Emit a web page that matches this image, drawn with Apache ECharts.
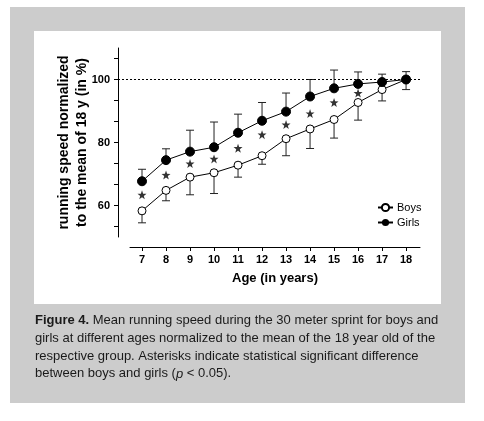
<!DOCTYPE html>
<html>
<head>
<meta charset="utf-8">
<script src="https://cdn.jsdelivr.net/npm/echarts@6/dist/echarts.min.js"></script>
<style>
  html, body { margin: 0; padding: 0; background: #ffffff; }
  #bg { position: absolute; left: 10px; top: 7px; width: 455px; height: 396px; background: #cccccc; }
  #panel { position: absolute; left: 34px; top: 31px; width: 407px; height: 273px; background: #ffffff; }
  #chart { position: absolute; left: 0; top: 0; width: 484px; height: 421px; }
</style>
</head>
<body>
<div id="bg"></div>
<div id="panel"></div>
<div id="chart"></div>
<script>
// ---- data ----
const ages = [7, 8, 9, 10, 11, 12, 13, 14, 15, 16, 17, 18];
const girls = [67.7, 74.4, 77.1, 78.5, 83.1, 86.9, 89.8, 94.6, 97.2, 98.6, 99.2, 100];
const girlsUpper = [71.5, 78.0, 83.9, 86.5, 89.0, 92.7, 95.7, 100.0, 103.0, 102.4, 101.7, 102.5];
const boys = [58.3, 64.8, 69.0, 70.4, 72.8, 75.8, 81.2, 84.3, 87.3, 92.7, 96.8, 100];
const boysLower = [54.5, 61.5, 63.4, 63.8, 69.0, 73.1, 75.8, 78.1, 81.4, 87.1, 93.2, 96.8];
const starAges = [7, 8, 9, 10, 11, 12, 13, 14, 15, 16];
const starValues = [63.4, 69.7, 73.3, 74.8, 78.2, 82.5, 85.7, 89.2, 92.7, 95.7];
const yTickValues = [53.333, 60, 66.667, 73.333, 80, 86.667, 93.333, 100, 106.667];
const yLabelValues = [60, 80, 100];
const xTickValues = [7, 8, 9, 10, 11, 12, 13, 14, 15, 16, 17, 18];
const refLine = 100;
const captionLines = [
  [['b', 'Figure 4.'], ['n', ' Mean running speed during the 30 meter sprint for boys and']],
  [['n', 'girls at different ages normalized to the mean of the 18 year old of the']],
  [['n', 'respective group. Asterisks indicate statistical significant difference']],
  [['n', 'between boys and girls ('], ['i', 'p'], ['n', ' < 0.05).']]
];

const FONT = '"Liberation Sans", Arial, sans-serif';
const chart = echarts.init(document.getElementById('chart'), null, { renderer: 'canvas' });

function errSeries(name, vals, bounds, color) {
  return {
    type: 'custom',
    name: name + ' err',
    xAxisIndex: 0, yAxisIndex: 0,
    z: 1,
    silent: true,
    data: ages.map((a, i) => [a, vals[i], bounds[i]]),
    renderItem: function (params, api) {
      const p0 = api.coord([api.value(0), api.value(1)]);
      const p1 = api.coord([api.value(0), api.value(2)]);
      const hw = 4;
      return {
        type: 'group',
        children: [
          { type: 'line', shape: { x1: p0[0], y1: p0[1], x2: p1[0], y2: p1[1] }, style: { stroke: color, lineWidth: 1 } },
          { type: 'line', shape: { x1: p1[0] - hw, y1: p1[1], x2: p1[0] + hw, y2: p1[1] }, style: { stroke: color, lineWidth: 1 } }
        ]
      };
    }
  };
}

const graphics = captionLines.map((parts, li) => ({
  type: 'text',
  left: 35,
  top: 314 + li * 17.8,
  style: {
    text: parts.map(p => '{' + p[0] + '|' + p[1] + '}').join(''),
    rich: {
      b: { fontFamily: FONT, fontSize: 13, fontWeight: 'bold', fill: '#1a1a1a' },
      n: { fontFamily: FONT, fontSize: 13, fill: '#1a1a1a' },
      i: { fontFamily: FONT, fontSize: 13, fontStyle: 'italic', fill: '#1a1a1a' }
    }
  }
}));

const option = {
  backgroundColor: 'transparent',
  animation: false,
  textStyle: { fontFamily: FONT },
  grid: [
    { left: 118, right: 64, top: 48, bottom: 184 },
    { left: 130, right: 64, top: 48, bottom: 184 }
  ],
  xAxis: [
    { type: 'value', gridIndex: 0, min: 6, max: 18.58, show: false },
    {
      type: 'value', gridIndex: 1, min: 6.5, max: 18.58, offset: 10,
      axisLine: { show: true, onZero: false, lineStyle: { color: '#000', width: 1 } },
      axisTick: { show: true, length: 4, customValues: xTickValues, lineStyle: { color: '#000' } },
      axisLabel: { customValues: xTickValues, color: '#000', fontWeight: 'bold', fontSize: 11, margin: 7, fontFamily: FONT },
      splitLine: { show: false },
      name: 'Age (in years)', nameLocation: 'middle', nameGap: 25, nameMoveOverlap: false,
      nameTextStyle: { fontWeight: 'bold', fontSize: 13, color: '#000', fontFamily: FONT }
    }
  ],
  yAxis: [
    {
      type: 'value', gridIndex: 0, min: 50, max: 110,
      axisLine: { show: true, onZero: false, lineStyle: { color: '#000', width: 1 } },
      axisTick: { show: true, length: 4, customValues: yTickValues, lineStyle: { color: '#000' } },
      axisLabel: { customValues: yLabelValues, color: '#000', fontWeight: 'bold', fontSize: 11, margin: 8, fontFamily: FONT },
      splitLine: { show: false },
      name: 'running speed normalized\nto the mean of 18 y (in %)',
      nameLocation: 'middle', nameRotate: 90, nameGap: 27, nameMoveOverlap: false,
      nameTextStyle: { fontWeight: 'bold', fontSize: 14, color: '#000', lineHeight: 18, fontFamily: FONT }
    },
    { type: 'value', gridIndex: 1, min: 50, max: 110, show: false }
  ],
  legend: {
    orient: 'vertical',
    left: 372, top: 197,
    itemWidth: 15, itemHeight: 9, itemGap: 4,
    textStyle: { fontSize: 11, color: '#000', fontFamily: FONT, padding: [0, 0, 0, -1] },
    data: ['Boys', 'Girls']
  },
  graphic: graphics,
  series: [
    errSeries('Girls', girls, girlsUpper, '#222'),
    errSeries('Boys', boys, boysLower, '#222'),
    {
      name: 'Boys', type: 'line', xAxisIndex: 0, yAxisIndex: 0, z: 3,
      data: ages.map((a, i) => [a, boys[i]]),
      symbol: 'circle', symbolSize: 8,
      itemStyle: { color: '#fff', borderColor: '#000', borderWidth: 1 },
      lineStyle: { color: '#000', width: 1 },
      markLine: {
        silent: true, symbol: 'none', label: { show: false },
        lineStyle: { color: '#000', type: [2, 2], width: 1 },
        data: [{ yAxis: refLine }]
      }
    },
    {
      name: 'Girls', type: 'line', xAxisIndex: 0, yAxisIndex: 0, z: 4,
      data: ages.map((a, i) => [a, girls[i]]),
      symbol: 'circle', symbolSize: 9,
      itemStyle: { color: '#000', borderColor: '#000' },
      lineStyle: { color: '#000', width: 1 }
    },
    {
      name: 'stars', type: 'scatter', xAxisIndex: 0, yAxisIndex: 0, z: 3,
      data: starAges.map((a, i) => [a, starValues[i]]),
      symbol: 'path://M0,-10 L2.35,-3.24 L9.51,-3.09 L3.8,1.24 L5.88,8.09 L0,4 L-5.88,8.09 L-3.8,1.24 L-9.51,-3.09 L-2.35,-3.24 Z',
      symbolSize: 9,
      itemStyle: { color: '#000' }
    }
  ]
};
chart.setOption(option);
</script>
</body>
</html>
